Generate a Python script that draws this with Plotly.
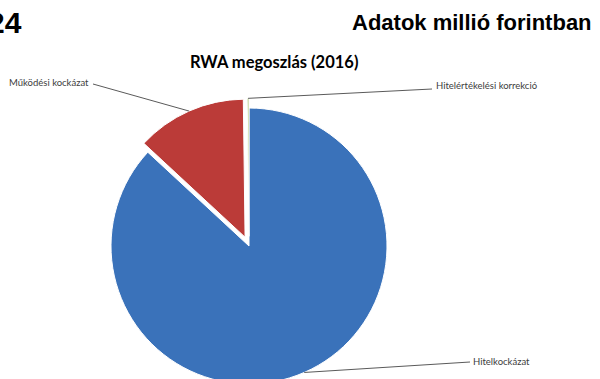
import numpy as np
import plotly.graph_objects as go

# ---- data ----
labels = ["Hitelkockázat", "Működési kockázat", "Hitelértékelési korrekció"]
values = [64250, 9540, 150]          # millió forint (estimated)
pulls = [0.0, 0.07, 0.07]
colors = ["#3a72ba", "#bb3b38", "#9bbb59"]
title_text = "RWA megoszlás (2016)"
header_left = "24"
header_right = "Adatok millió forintban"

# ---- layout constants (pixels) ----
W, H = 600, 396
cx, cy, r = 249.0, 246.0, 138.0
maxpull = max(pulls)
half = r * (1 + maxpull)
dom_x = [(cx - half) / W, (cx + half) / W]
dom_y = [(H - cy - half) / H, (H - cy + half) / H]

def px(x):
    return x / W

def py(y):
    return 1 - y / H

# label text anchor (x, y, xanchor) and leader-line end near the label
label_layout = {
    "Hitelkockázat": ((471, 361, "left"), (470, 362)),
    "Működési kockázat": ((91, 82, "right"), (93, 84)),
    "Hitelértékelési korrekció": ((434, 86, "left"), (432, 89)),
}

fig = go.Figure(go.Pie(
    labels=labels, values=values, pull=pulls, sort=False,
    direction="clockwise", rotation=0,
    marker=dict(colors=colors, line=dict(color="#ffffff", width=1)),
    textinfo="none", showlegend=False,
    domain=dict(x=dom_x, y=dom_y),
))

# leader lines from slice mid-angle edge to label
vals = np.array(values, dtype=float)
total = vals.sum()
cum = np.cumsum(vals)
mid = 2 * np.pi * (cum - vals / 2) / total
shapes = []
annotations = []
for lab, th, pl in zip(labels, mid, pulls):
    pcx = cx + pl * r * np.sin(th)
    pcy = cy - pl * r * np.cos(th)
    ex = pcx + r * np.sin(th)
    ey = pcy - r * np.cos(th)
    (tx, ty, anc), (lx, ly) = label_layout[lab]
    shapes.append(dict(type="line", xref="paper", yref="paper",
                       x0=px(ex), y0=py(ey), x1=px(lx), y1=py(ly),
                       line=dict(color="#5a5a5a", width=1)))
    annotations.append(dict(text=lab, x=px(tx), y=py(ty), xref="paper", yref="paper",
                            xanchor=anc, yanchor="middle", showarrow=False,
                            font=dict(family="Lato, Open Sans, sans-serif", size=9.5, color="#404040")))

head_font = "Liberation Sans, Arial, sans-serif"
annotations += [
    dict(text="<b>" + header_left + "</b>", x=px(24), y=py(23), xref="paper", yref="paper",
         xanchor="right", yanchor="middle", showarrow=False,
         font=dict(family=head_font, size=30, color="#000000")),
    dict(text="<b>" + header_right + "</b>", x=px(594), y=py(23), xref="paper", yref="paper",
         xanchor="right", yanchor="middle", showarrow=False,
         font=dict(family=head_font, size=22, color="#000000")),
    dict(text="<b>" + title_text + "</b>", x=px(274), y=py(62), xref="paper", yref="paper",
         xanchor="center", yanchor="middle", showarrow=False,
         font=dict(family="Lato, Open Sans, sans-serif", size=16.5, color="#000000")),
]

fig.update_layout(
    width=W, height=H, margin=dict(l=0, r=0, t=0, b=0),
    paper_bgcolor="#ffffff", plot_bgcolor="#ffffff",
    shapes=shapes, annotations=annotations,
)

fig.write_html("out.html",
               post_script="document.documentElement.style.overflow='hidden';document.body.style.overflow='hidden';document.body.style.margin='0';")
